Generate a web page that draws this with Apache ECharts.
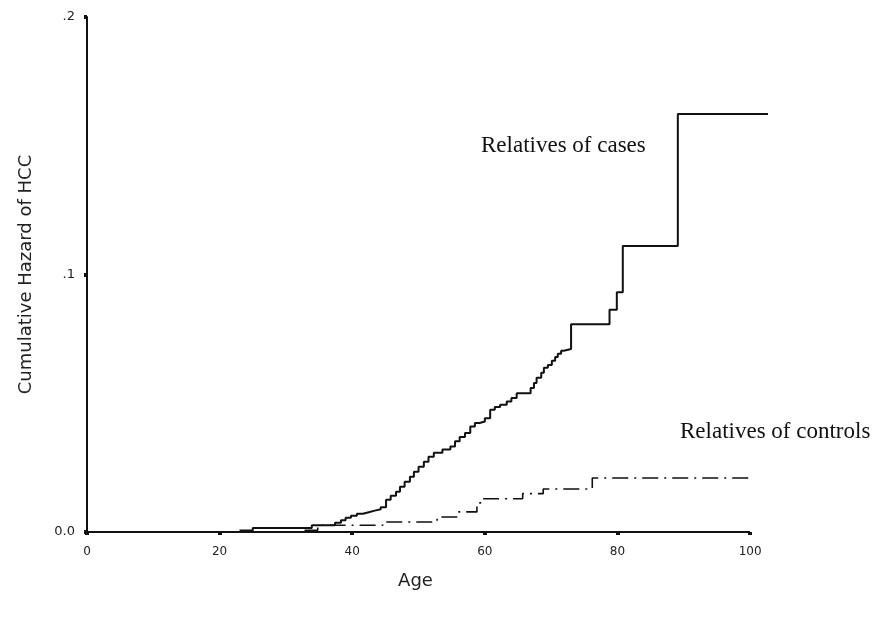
<!DOCTYPE html>
<html>
<head>
<meta charset="utf-8">
<script src="https://cdn.jsdelivr.net/npm/echarts@6/dist/echarts.min.js"></script>
<style>html,body{margin:0;padding:0;background:#fff;}#c{width:878px;height:619px;}</style>
</head>
<body>
<div id="c"></div>
<script>
// Relatives of cases: ages at which the cumulative hazard steps, and value after step
var casesAge = [23.0, 25.0, 33.9, 37.4, 38.3, 39.0, 39.8, 40.7, 41.6, 42.5, 43.4, 44.3, 45.1, 45.8, 46.6, 47.2, 47.9, 48.7, 49.3, 50.0, 50.8, 51.5, 52.3, 53.6, 54.8, 55.5, 56.2, 57.0, 57.8, 58.5, 59.2, 60.0, 60.8, 61.5, 62.3, 63.3, 64.0, 64.8, 66.9, 67.4, 67.8, 68.5, 68.9, 69.5, 70.1, 70.6, 71.0, 71.5, 71.9, 73.0, 78.8, 79.9, 80.8, 89.1, 102.7];
var casesHazard = [0.0006, 0.0016, 0.0026, 0.0036, 0.0046, 0.0055, 0.0063, 0.0071, 0.0077, 0.0083, 0.0088, 0.0096, 0.0125, 0.0141, 0.0156, 0.0176, 0.0195, 0.0215, 0.0234, 0.0253, 0.0273, 0.0292, 0.0308, 0.0320, 0.0332, 0.0352, 0.0369, 0.0384, 0.0410, 0.0423, 0.0429, 0.0442, 0.0475, 0.0485, 0.0494, 0.0507, 0.0520, 0.0539, 0.0559, 0.0579, 0.0599, 0.0618, 0.0638, 0.0649, 0.0665, 0.0680, 0.0692, 0.0704, 0.0711, 0.0807, 0.0863, 0.0931, 0.1111, 0.1623, 0.1623];
// Relatives of controls
var controlsAge = [32.8, 34.8, 44.6, 52.8, 55.8, 58.8, 59.7, 65.7, 68.8, 76.2, 100.0];
var controlsHazard = [0.0007, 0.0026, 0.0039, 0.0058, 0.0078, 0.0113, 0.0129, 0.0149, 0.0167, 0.0210, 0.0210];

var xTicks = [0, 20, 40, 60, 80, 100];
var yTicks = ['0.0', '.1', '.2'];
var yTickValues = [0, 0.1, 0.2];
var xDataMax = 103;
var labelCases = 'Relatives of cases';
var labelControls = 'Relatives of controls';

function pairs(xs, ys) { return xs.map(function (x, i) { return [x, ys[i]]; }); }

var chart = echarts.init(document.getElementById('c'), null, { renderer: 'canvas' });
chart.setOption({
  animation: false,
  backgroundColor: '#fff',
  grid: { left: 87, right: 108, top: 17, bottom: 87, containLabel: false },
  xAxis: {
    type: 'value', min: 0, max: xDataMax,
    name: 'Age', nameLocation: 'middle', nameGap: 40,
    nameTextStyle: { fontFamily: 'DejaVu Sans', fontSize: 18, color: '#222', padding: [0, 26, 0, 0] },
    axisLine: { show: false },
    axisTick: { show: true, length: 3, inside: false, customValues: xTicks, lineStyle: { color: '#111', width: 4 } },
    axisLabel: { fontFamily: 'DejaVu Sans', fontSize: 12, color: '#222', margin: 14, customValues: xTicks },
    splitLine: { show: false }
  },
  yAxis: {
    type: 'value', min: 0, max: 0.2, interval: 0.1,
    name: 'Cumulative Hazard of HCC', nameLocation: 'middle', nameGap: 52,
    nameTextStyle: { fontFamily: 'DejaVu Sans', fontSize: 18, color: '#222' },
    axisLine: { show: true, lineStyle: { color: '#111', width: 2 } },
    axisTick: { show: true, length: 3, inside: false, lineStyle: { color: '#111', width: 4 } },
    axisLabel: {
      fontFamily: 'DejaVu Sans', fontSize: 13, color: '#222', margin: 12,
      formatter: function (v) { return yTicks[yTickValues.indexOf(Math.round(v * 10) / 10)]; }
    },
    splitLine: { show: false }
  },
  series: [
    {
      name: labelCases, type: 'line', step: 'end', symbol: 'none', clip: false,
      data: pairs(casesAge, casesHazard),
      lineStyle: { color: '#111', width: 2 }
    },
    {
      name: labelControls, type: 'line', step: 'end', symbol: 'none', clip: false,
      data: pairs(controlsAge, controlsHazard),
      lineStyle: { color: '#111', width: 1.6, type: [16, 6, 2, 6] },
      markLine: {
        silent: true, symbol: 'none', label: { show: false },
        lineStyle: { color: '#111', width: 2, type: 'solid' },
        data: [[{ coord: [xTicks[0], 0] }, { coord: [xTicks[xTicks.length - 1], 0] }]]
      }
    }
  ],
  graphic: [
    { type: 'text', left: 481, top: 134, style: { text: labelCases, font: '23px "Liberation Serif"', fill: '#111' } },
    { type: 'text', left: 680, top: 420, style: { text: labelControls, font: '23px "Liberation Serif"', fill: '#111' } }
  ]
});
</script>
</body>
</html>
